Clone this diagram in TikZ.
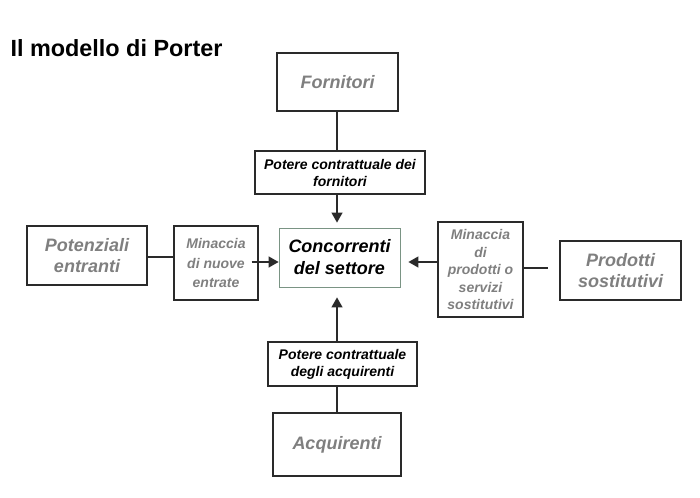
\documentclass[tikz,border=0pt]{standalone}
\usepackage{fontspec}
\setmainfont{Liberation Sans}
\usetikzlibrary{arrows.meta}
\definecolor{bordc}{HTML}{2A2A2A}
\definecolor{grtxt}{HTML}{7F7F7F}
\definecolor{grnb}{HTML}{7A9484}
\begin{document}
\begin{tikzpicture}[x=1pt,y=-1pt,
  box/.style={draw=bordc, line width=1.2pt, inner sep=0pt, align=center, font=\bfseries\itshape},
  bigg/.style={box, text=grtxt, font=\fontsize{18}{21}\selectfont\bfseries\itshape},
  small/.style={box, font=\fontsize{14}{17}\selectfont\bfseries\itshape},
  smallg/.style={small, text=grtxt},
  conn/.style={draw=bordc, line width=1.2pt},
  arr/.style={conn, -{Triangle[length=10pt,width=11pt]}}
]
\useasboundingbox (0,0) rectangle (700,497);
\node[anchor=base west, font=\fontsize{23.4}{28}\selectfont\bfseries] (title) at (7,57) {Il modello di Porter};

\node[bigg, minimum width=121pt, minimum height=58pt] (F) at (337.5,82) {Fornitori};
\node[small, minimum width=170pt, minimum height=43pt] (PF) at (340,172.5) {Potere contrattuale dei\\fornitori};
\node[box, draw=grnb, line width=0.8pt, minimum width=121pt, minimum height=59pt, font=\fontsize{18}{22}\selectfont\bfseries\itshape] (C) at (339.5,257.5) {Concorrenti\\del settore};
\node[bigg, minimum width=120pt, minimum height=59pt] (PE) at (87,255.5) {Potenziali\\entranti};
\node[smallg, minimum width=84pt, minimum height=74pt, font=\fontsize{14}{19.5}\selectfont\bfseries\itshape] (MN) at (216,263) {Minaccia\\di nuove\\entrate};
\node[smallg, minimum width=85pt, minimum height=95pt, font=\fontsize{14}{17.5}\selectfont\bfseries\itshape] (MS) at (480.5,269.5) {Minaccia\\di\\prodotti o\\servizi\\sostitutivi};
\node[bigg, minimum width=121pt, minimum height=59pt] (PS) at (620.5,270.5) {Prodotti\\sostitutivi};
\node[small, minimum width=149pt, minimum height=44pt] (PA) at (342.5,364) {Potere contrattuale\\degli acquirenti};
\node[bigg, minimum width=128pt, minimum height=63pt] (A) at (337,444.5) {Acquirenti};

\coordinate (pse) at (548,268);

\draw[conn] (F.south -| 337,0) -- (PF.north -| 337,0);
\draw[arr, shorten >=5pt] (PF.south -| 337,0) -- (C.north -| 337,0);
\draw[conn] (PE.east |- 0,257) -- (MN.west |- 0,257);
\draw[arr] ([xshift=-7pt]MN.east |- 0,262) -- (C.west |- 0,262);
\draw[arr, shorten >=8pt] (MS.west |- 0,262) -- (C.east |- 0,262);
\draw[conn] (MS.east |- 0,268) -- (pse);
\draw[arr, shorten >=10pt] (PA.north -| 337,0) -- (C.south -| 337,0);
\draw[conn] (PA.south -| 337,0) -- (A.north -| 337,0);
\end{tikzpicture}
\end{document}
